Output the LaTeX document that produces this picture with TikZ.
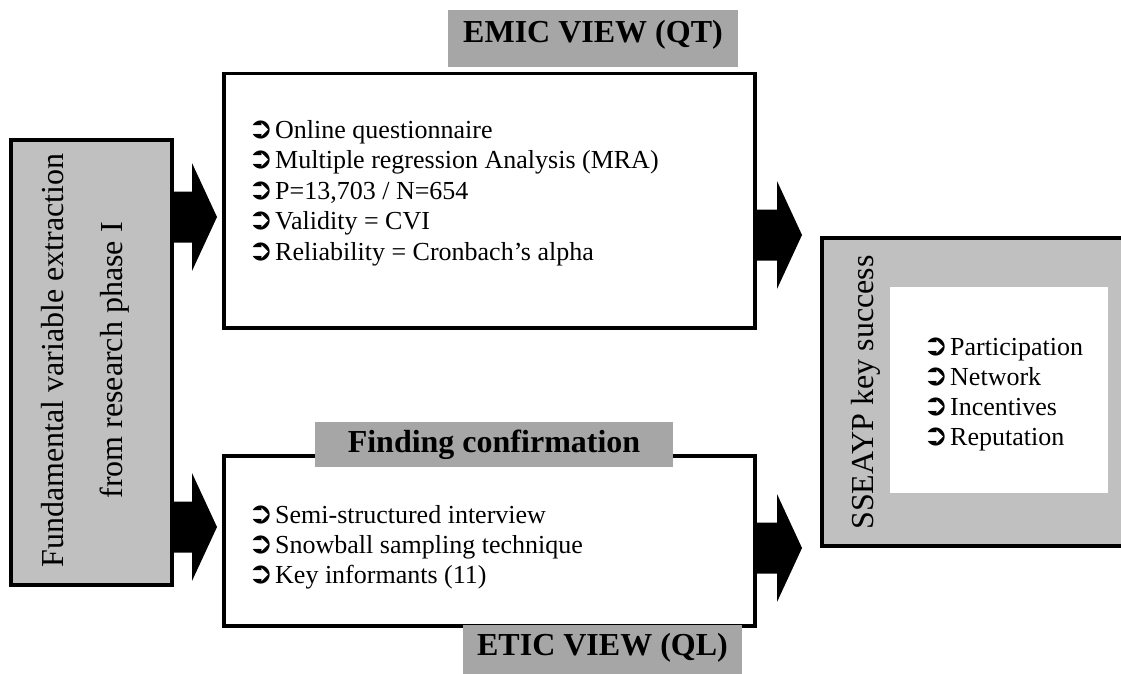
\documentclass[tikz,border=0pt]{standalone}
\usepackage{fontspec}
\setmainfont{Liberation Serif}
\newfontfamily\dingfont{DejaVu Sans}
\usetikzlibrary{calc}
\definecolor{boxgray}{RGB}{192,192,192}
\definecolor{taggray}{RGB}{166,166,166}
% list bullet: a circled arrow in a fixed-width box
\newcommand\bul{\makebox[27pt][l]{\dingfont\fontsize{30}{30}\selectfont\char"27B2}}
% thick block arrow from #1 (tail) to #2 (tip)
\newcommand\fatarrow[2]{%
  \fill ($(#1)+(0,25.5)$) -- ($(#2)+(-25,25.5)$) -- ($(#2)+(-25,54)$) -- (#2)
    -- ($(#2)+(-25,-54)$) -- ($(#2)+(-25,-25.5)$) -- ($(#1)+(0,-25.5)$) -- cycle;}
\begin{document}
\begin{tikzpicture}[x=1pt,y=-1pt,
  frame/.style={draw=black, line width=3.5pt, inner sep=0pt, anchor=north west},
  tag/.style={fill=taggray, inner sep=0pt, anchor=north, font=\fontsize{32}{36}\selectfont\bfseries},
  list/.style={align=left, inner sep=0pt, anchor=base west, font=\fontsize{26}{30}\selectfont},
  ]
\useasboundingbox (0,0) rectangle (1121,674);
\clip (0,0) rectangle (1121,674);

% source box on the left
\node[frame, fill=boxgray, minimum width=161pt, minimum height=445pt] (fund) at (9,138) {};
\node[rotate=90, align=center, inner sep=0pt, font=\fontsize{32}{59}\selectfont] (fundtext) at (85,360.5)
  {Fundamental variable extraction\\from research phase I};

% quantitative branch (list anchored at the baseline of its last line)
\node[frame, fill=white, minimum width=531pt, minimum height=254pt] (emic) at (222,72) {};
\node[tag, minimum width=290pt, text height=32pt, text depth=25pt] (emictag) at (593,10) {EMIC VIEW (QT)};
\node[list, font=\fontsize{26}{30.5}\selectfont] (emiclist) at (248,260)
  {\bul Online questionnaire\\
   \bul Multiple regression Analysis (MRA)\\
   \bul P=13,703 / N=654\\
   \bul Validity = CVI\\
   \bul Reliability = Cronbach’s alpha};

% qualitative branch
\node[frame, fill=white, minimum width=531pt, minimum height=170pt] (etic) at (222,454) {};
\node[tag, minimum width=358pt, text height=30pt, text depth=15pt] (findtag) at (494,422) {Finding confirmation};
\node[tag, minimum width=279pt, text height=30pt, text depth=22pt] (etictag) at (602.5,625) {ETIC VIEW (QL)};
\node[list] (eticlist) at (248,583)
  {\bul Semi-structured interview\\
   \bul Snowball sampling technique\\
   \bul Key informants (11)};

% result box on the right
\node[frame, fill=boxgray, minimum width=320pt, minimum height=308pt] (ssea) at (820,236) {};
\node[fill=white, inner sep=0pt, minimum width=218pt, minimum height=206pt, anchor=north west] (sseainner) at (890,287) {};
\node[rotate=90, anchor=base, inner sep=0pt, font=\fontsize{32}{36}\selectfont] (sseatitle) at (873,392.5) {SSEAYP key success};
\node[list] (ssealist) at (923,445)
  {\bul Participation\\
   \bul Network\\
   \bul Incentives\\
   \bul Reputation};

% connectors
\coordinate (l1s) at (fund.east |- 0,217);
\coordinate (l1e) at ($(emic.west |- 0,217)+(-5,0)$);
\coordinate (l2s) at (fund.east |- 0,527);
\coordinate (l2e) at ($(etic.west |- 0,527)+(-5,0)$);
\coordinate (r1s) at (emic.east |- 0,235);
\coordinate (r1e) at ($(ssea.west |- 0,235)+(-18,0)$);
\coordinate (r2s) at (etic.east |- 0,548);
\coordinate (r2e) at ($(ssea.west |- 0,548)+(-18,0)$);
\fatarrow{l1s}{l1e}
\fatarrow{l2s}{l2e}
\fatarrow{r1s}{r1e}
\fatarrow{r2s}{r2e}
\end{tikzpicture}
\end{document}
